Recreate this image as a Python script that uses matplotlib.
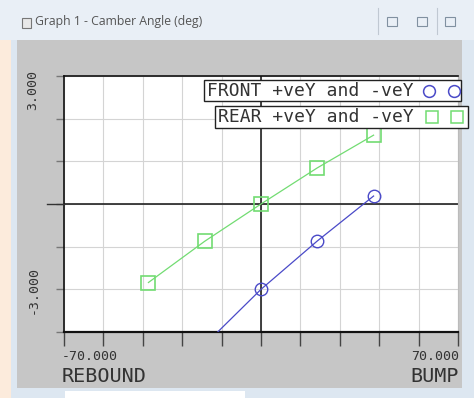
import matplotlib
matplotlib.use('Agg')
import matplotlib.pyplot as plt
from matplotlib.patches import Rectangle
from matplotlib.lines import Line2D
import numpy as np

W, H = 474, 398

# data
front_x = [-20, 0, 20, 40]
front_y = [-4.95, -3.0, -1.3, 0.28]
rear_x = [-40, -20, 0, 20, 40]
rear_y = [-2.76, -1.31, 0.0, 1.27, 2.42]
x_ticks = np.arange(-70, 71, 14)
y_ticks = np.arange(-4.5, 4.6, 1.5)
legend_labels = ['FRONT +veY and -veY', 'REAR +veY and -veY']

blue = '#4a4ac8'
green = '#72dc72'
gray_bg = '#c6c6c6'
mono = 'DejaVu Sans Mono'


def fx(x):
    return x / W


def fy(y):
    return 1 - y / H


fig = plt.figure(figsize=(W / 100, H / 100), dpi=100, facecolor='#dde7f1')

# window decoration
fig.patches.append(Rectangle((0, fy(40)), fx(474), fy(0) - fy(40), transform=fig.transFigure,
                             facecolor='#e9eff6', edgecolor='none', zorder=0))
fig.patches.append(Rectangle((0, 0), fx(11), fy(40), transform=fig.transFigure,
                             facecolor='#fcebdc', edgecolor='none', zorder=0))
fig.patches.append(Rectangle((fx(17), fy(388)), fx(445), fy(40) - fy(388), transform=fig.transFigure,
                             facecolor=gray_bg, edgecolor='none', zorder=0))
fig.patches.append(Rectangle((fx(65), 0), fx(180), fy(391), transform=fig.transFigure,
                             facecolor='white', edgecolor='none', zorder=0))
fig.patches.append(Rectangle((fx(22), fy(28)), fx(9), fy(18) - fy(28), transform=fig.transFigure,
                             facecolor='#e8e8e8', edgecolor='#777777', lw=0.8, zorder=1))
for bx in [392, 422, 450]:
    fig.patches.append(Rectangle((fx(bx - 5), fy(26)), fx(10), fy(17) - fy(26), transform=fig.transFigure,
                                 facecolor='none', edgecolor='#8090a0', lw=0.8, zorder=1))
fig.lines.append(Line2D([fx(378), fx(378)], [fy(8), fy(34)], transform=fig.transFigure, color='#c0c8d2', lw=0.8))
fig.lines.append(Line2D([fx(437), fx(437)], [fy(8), fy(34)], transform=fig.transFigure, color='#c0c8d2', lw=0.8))
fig.text(fx(35), fy(22), 'Graph 1 - Camber Angle (deg)', fontsize=8.8, color='#555555',
         family='Open Sans', va='center', ha='left')

# plot area
ax = fig.add_axes([fx(64), fy(332), fx(394), fy(76) - fy(332)])
ax.set_zorder(2)
ax.set_facecolor('white')
ax.set_xlim(-70, 70)
ax.set_ylim(-4.5, 4.5)
ax.set_xticks(x_ticks)
ax.set_yticks(y_ticks)
ax.set_xticklabels([])
ax.set_yticklabels([])
ax.grid(True, color='#d4d4d4', lw=0.8)
ax.tick_params(axis='x', direction='out', length=10, color='#444444', width=1)
ax.tick_params(axis='y', direction='out', length=6, color='#777777', width=1)
ax.axhline(0, color='#222222', lw=1.2, zorder=2)
ax.axvline(0, color='#222222', lw=1.2, zorder=2)
for side in ['left', 'top', 'bottom']:
    ax.spines[side].set_color('#111111')
    ax.spines[side].set_linewidth(1.2)
ax.spines['bottom'].set_linewidth(1.6)
ax.spines['right'].set_color('#bbbbbb')
ax.spines['right'].set_linewidth(0.8)

ax.plot(front_x, front_y, color=blue, lw=0.9, marker='o', markevery=[1, 2, 3],
        ms=9, mfc='none', mec=blue, mew=1.0, zorder=3)
ax.plot(rear_x, rear_y, color=green, lw=0.9, marker='s', ms=9.5,
        mfc='none', mec=green, mew=1.2, zorder=3)
fig.lines.append(Line2D([fx(47), fx(64)], [fy(204), fy(204)], transform=fig.transFigure,
                        color='#333333', lw=1, zorder=3))

# axis texts
fig.text(fx(33), fy(90), '3.000', rotation=90, family=mono, fontsize=9.5,
         color='#333333', ha='center', va='center')
fig.text(fx(33), fy(290), '-3.000', rotation=90, family=mono, fontsize=9.5,
         color='#333333', ha='center', va='center')
fig.text(fx(62), fy(356), '-70.000', family=mono, fontsize=9.5, color='#333333', ha='left', va='center')
fig.text(fx(62), fy(376), 'REBOUND', family=mono, fontsize=14.5, color='#333333', ha='left', va='center')
fig.text(fx(459), fy(356), '70.000', family=mono, fontsize=9.5, color='#333333', ha='right', va='center')
fig.text(fx(459), fy(376), 'BUMP', family=mono, fontsize=14.5, color='#333333', ha='right', va='center')

# legend boxes
boxes = [(204, 80, 257, 21), (215, 106, 253, 22)]
colors = [blue, green]
markers = ['o', 's']
mpos = [(429, 454), (432, 457)]
for (bx, by, bw, bh), lab, col, mk, mp in zip(boxes, legend_labels, colors, markers, mpos):
    fig.patches.append(Rectangle((fx(bx), fy(by + bh)), fx(bw), fy(by) - fy(by + bh),
                                 transform=fig.transFigure, facecolor='white',
                                 edgecolor='#222222', lw=1.0, zorder=5))
    fig.text(fx(bx + 3), fy(by + bh / 2), lab, family=mono, fontsize=13, color='#333333',
             ha='left', va='center', zorder=6)
    fig.lines.append(Line2D([fx(mp[0]), fx(mp[1])], [fy(by + bh / 2)] * 2, transform=fig.transFigure,
                            linestyle='none', marker=mk, ms=8.5, mfc='none', mec=col, mew=1.1, zorder=6))

fig.savefig('out.png', dpi=100, facecolor=fig.get_facecolor())
